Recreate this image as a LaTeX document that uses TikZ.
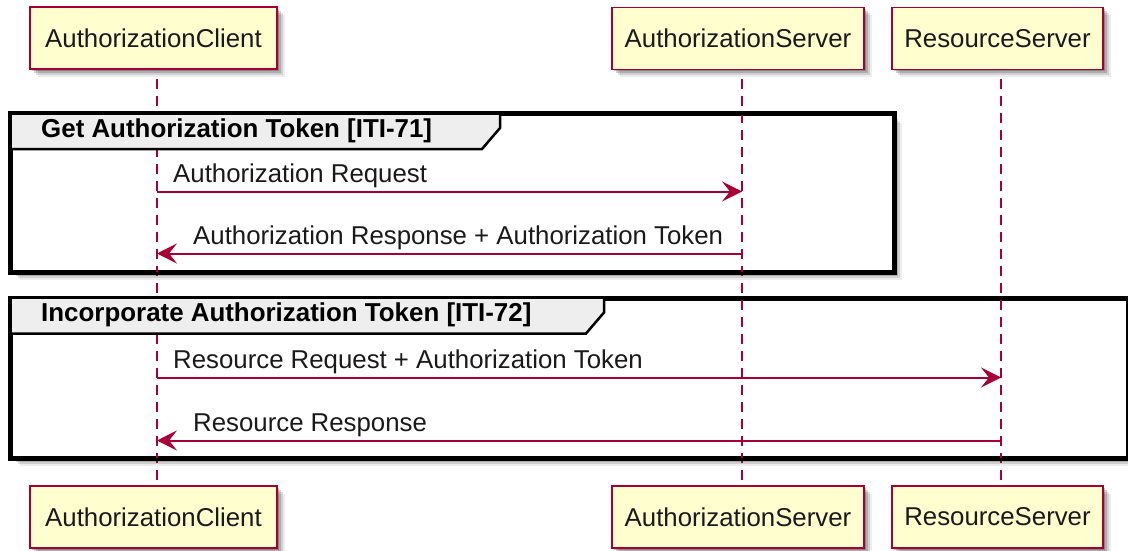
\documentclass[tikz,border=0pt]{standalone}
\usepackage{fontspec}
\setmainfont{Liberation Sans}
\usetikzlibrary{arrows.meta,shadows,calc}
\definecolor{crim}{HTML}{A80036}
\definecolor{partfill}{HTML}{FEFECE}
\definecolor{grphead}{HTML}{EEEEEE}
\definecolor{txt}{HTML}{1A1A1A}
\begin{document}
\begin{tikzpicture}[x=1pt,y=-1pt,
  softshadow/.style={
    drop shadow={shadow xshift=2pt,shadow yshift=-2pt,opacity=0.22,fill=black},
    drop shadow={shadow xshift=4pt,shadow yshift=-4pt,opacity=0.17,fill=black},
    drop shadow={shadow xshift=6pt,shadow yshift=-6pt,opacity=0.12,fill=black},
    drop shadow={shadow xshift=8pt,shadow yshift=-8pt,opacity=0.07,fill=black}},
  part/.style={draw=crim, fill=partfill, line width=1.8pt, minimum height=62pt,
    inner sep=0pt, text=txt, font=\fontsize{25.8}{30}\selectfont, softshadow},
  life/.style={draw=crim, line width=1.8pt, dash pattern=on 10pt off 7pt},
  msg/.style={draw=crim, line width=2pt, -{Stealth[length=20pt,width=20pt,inset=8pt]}},
  lbl/.style={anchor=base west, inner sep=0pt, text=txt, font=\fontsize{25.8}{30}\selectfont},
  hdr/.style={anchor=base west, inner sep=0pt, text=black, font=\bfseries\fontsize{25.9}{30}\selectfont},
  frm/.style={draw=black, line width=3.2pt, fill=white, softshadow, inner sep=0pt, anchor=north west},
  frmline/.style={draw=black, line width=3.2pt},
  hdrline/.style={draw=black, line width=2.5pt, line join=miter},
]
\useasboundingbox (0,0) rectangle (1128,551);

% participants
\node[part, minimum width=247pt] (ac) at (153.5,38) {AuthorizationClient};
\node[part, minimum width=252pt] (as) at (738,38.5) {AuthorizationServer};
\node[part, minimum width=211pt] (rs) at (997.5,38.5) {ResourceServer};
\node[part, minimum width=247pt] (acb) at (153.5,517) {AuthorizationClient};
\node[part, minimum width=252pt] (asb) at (738,517) {AuthorizationServer};
\node[part, minimum width=211pt] (rsb) at (997.5,517) {ResourceServer};

% group frames
\node[frm, minimum width=882pt, minimum height=157pt] (g1) at (10,113) {};
\node[frm, minimum width=1116pt, minimum height=158.5pt] (g2) at (10,297.5) {};

% lifelines
\coordinate (acl) at ($(ac.south)+(3.5,9)$);
\coordinate (asl) at ($(as.south)+(4,9)$);
\coordinate (rsl) at ($(rs.south)+(3.5,9)$);
\coordinate (aclb) at ($(acb.north)+(3.5,0)$);
\coordinate (aslb) at ($(asb.north)+(4,0)$);
\coordinate (rslb) at ($(rsb.north)+(3.5,0)$);
\draw[life] (acl) -- (aclb);
\draw[life] (asl) -- (aslb);
\draw[life] (rsl) -- (rslb);

% group headers
\fill[grphead] (10,113) -- (500,113) -- (500,128) -- (482,149) -- (10,149) -- cycle;
\draw[hdrline] (10,149) -- (482,149) -- (500,128) -- (500,113);
\node[hdr] (h1) at (41,137) {Get Authorization Token [ITI-71]};
\fill[grphead] (10,297.5) -- (604,297.5) -- (604,312.5) -- (586,333.5) -- (10,333.5) -- cycle;
\draw[hdrline] (10,333.5) -- (586,333.5) -- (604,312.5) -- (604,297.5);
\node[hdr] (h2) at (41,321.5) {Incorporate Authorization Token [ITI-72]};
\draw[frmline] (g1.north west) rectangle (g1.south east);
\draw[frmline] (g2.north west) rectangle (g2.south east);

% messages
\coordinate (m1) at (0,191.5);
\coordinate (m2) at (0,253.5);
\coordinate (m3) at (0,377.5);
\coordinate (m4) at (0,440.5);
\draw[msg] (acl |- m1) -- (asl |- m1);
\node[lbl] (t1) at (173,182.5) {Authorization Request};
\draw[msg] (asl |- m2) -- (acl |- m2);
\node[lbl] (t2) at (193,244) {Authorization Response + Authorization Token};
\draw[msg] (acl |- m3) -- (rsl |- m3);
\node[lbl] (t3) at (173,368.5) {Resource Request + Authorization Token};
\draw[msg] (rsl |- m4) -- (acl |- m4);
\node[lbl] (t4) at (193,431.5) {Resource Response};
\end{tikzpicture}
\end{document}
